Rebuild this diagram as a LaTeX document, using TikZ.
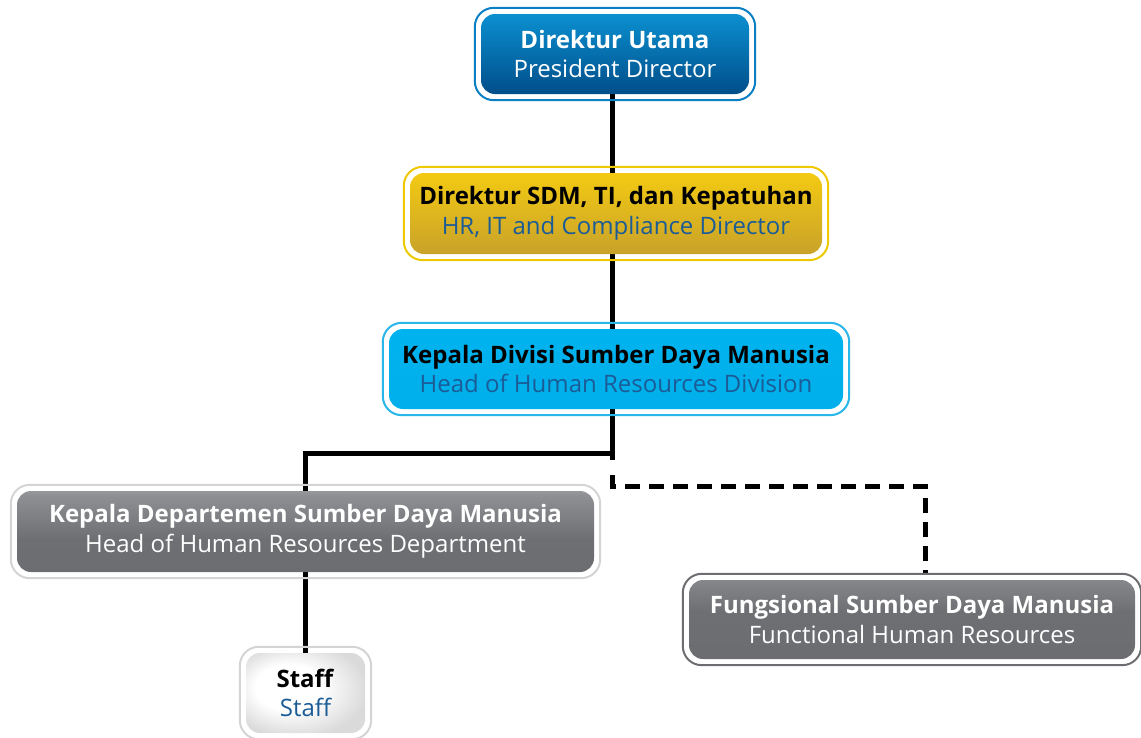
\documentclass[tikz,border=0pt]{standalone}
\usepackage{fontspec}
\setmainfont{Open Sans}
\usetikzlibrary{fit,backgrounds}

\definecolor{blueTop}{HTML}{0B8FD0}
\definecolor{blueBot}{HTML}{004E89}
\definecolor{blueRim}{HTML}{0A7FC4}
\definecolor{goldTop}{HTML}{F3CA12}
\definecolor{goldBot}{HTML}{C9A22A}
\definecolor{goldRim}{HTML}{F0C800}
\definecolor{skyRim}{HTML}{29B6E8}
\definecolor{greyRimL}{HTML}{D4D4D4}
\definecolor{greyRimD}{HTML}{6D6E71}
\definecolor{textBlue}{HTML}{1B5C97}
\definecolor{staffOut}{HTML}{DADADB}

\definecolor{skyA}{HTML}{00ADE9}
\definecolor{skyB}{HTML}{00B3EE}
\definecolor{skyC}{HTML}{40C6F2}
\definecolor{skyD}{HTML}{A6E2F8}
\definecolor{grA}{HTML}{6A6B6F}
\definecolor{grB}{HTML}{6E6F73}
\definecolor{grC}{HTML}{8E8F93}
\definecolor{grD}{HTML}{DCDCDD}
\definecolor{grE}{HTML}{A4A5A8}

\pgfdeclareverticalshading{skyshade}{100bp}{
  color(0bp)=(skyA); color(80bp)=(skyB);
  color(92bp)=(skyC); color(100bp)=(skyD)}
\pgfdeclareverticalshading{greyshadeA}{100bp}{
  color(0bp)=(grA); color(45bp)=(grB);
  color(72bp)=(grC); color(100bp)=(grD)}
\pgfdeclareverticalshading{greyshadeB}{100bp}{
  color(0bp)=(grA); color(55bp)=(grB);
  color(100bp)=(grE)}
\pgfdeclareradialshading{staffshade}{\pgfpoint{-10bp}{5bp}}{
  color(0bp)=(white); color(14bp)=(white);
  color(30bp)=(staffOut); color(50bp)=(staffOut)}

\tikzset{
  box/.style={rounded corners=14pt, inner sep=0pt, align=center,
    font=\fontsize{24}{29.5}\selectfont},
  frame/.style={draw=#1, line width=2pt, rounded corners=19pt, inner sep=6pt},
  conn/.style={line width=5pt, black},
  dashconn/.style={line width=5pt, black, dash pattern=on 15pt off 9pt}
}

\begin{document}
\begin{tikzpicture}[x=1pt,y=-1pt]
\useasboundingbox (0,0) rectangle (1141,737);

% boxes (inner shaded panels)
\node[box, minimum width=268pt, minimum height=80pt,
      top color=blueTop, bottom color=blueBot, text=white]
  (b1) at (615,54) {\textbf{Direktur Utama}\\President Director};
\node[box, minimum width=412pt, minimum height=81pt,
      top color=goldTop, bottom color=goldBot]
  (b2) at (616,213.5) {\textbf{Direktur SDM, TI, dan Kepatuhan}\\\textcolor{textBlue}{HR, IT and Compliance Director}};
\node[box, minimum width=454pt, minimum height=80pt, shading=skyshade]
  (b3) at (616,369) {\textbf{Kepala Divisi Sumber Daya Manusia}\\\textcolor{textBlue}{Head of Human Resources Division}};
\node[box, minimum width=577pt, minimum height=81pt, shading=greyshadeA, text=white]
  (b4) at (305.5,531.5) {\textbf{Kepala Departemen Sumber Daya Manusia}\\Head of Human Resources Department};
\node[box, minimum width=446pt, minimum height=79pt, shading=greyshadeB, text=white]
  (b5) at (912,619.5) {\textbf{Fungsional Sumber Daya Manusia}\\Functional Human Resources};
\node[box, minimum width=119pt, minimum height=80pt, shading=staffshade]
  (b6) at (305.5,693) {\textbf{Staff}\\\textcolor{textBlue}{Staff}};

% outer frames
\node[frame=blueRim, fit=(b1)] (f1) {};
\node[frame=goldRim, fit=(b2)] (f2) {};
\node[frame=skyRim, fit=(b3)] (f3) {};
\node[frame=greyRimL, fit=(b4)] (f4) {};
\node[frame=greyRimD, fit=(b5)] (f5) {};
\node[frame=greyRimL, fit=(b6)] (f6) {};

% routing points
\coordinate (trunk) at (612,0);
\coordinate (split) at (612,453);
\coordinate (tick) at (612,460);
\coordinate (dstart) at (612,475);
\coordinate (dcorner) at (925,486);

\begin{scope}[on background layer]
  \draw[conn] (b1 -| trunk) -- (b3 -| trunk);
  \draw[conn] (b3 -| trunk) -- (tick);
  \draw[conn] (split) -| (b6);
  \draw[dashconn] (dstart) |- (dcorner) -- (dcorner |- f5.north);
\end{scope}
\end{tikzpicture}
\end{document}
